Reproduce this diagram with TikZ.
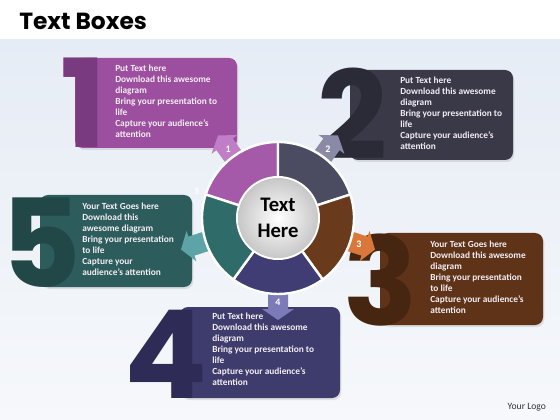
\documentclass[tikz,border=0pt]{standalone}
\usepackage{fontspec}
\setmainfont{Carlito}
\newfontfamily\digitfont{Poppins}
\usetikzlibrary{shadows}
\definecolor{bgtop}{HTML}{E6ECF5}
\definecolor{bgbot}{HTML}{F6F8FB}
\definecolor{box1}{HTML}{9C4F9E}\definecolor{dig1}{HTML}{7A3A80}
\definecolor{box2}{HTML}{3A3948}\definecolor{dig2}{HTML}{2B2A37}
\definecolor{box3}{HTML}{5E3318}\definecolor{dig3}{HTML}{472611}
\definecolor{box4}{HTML}{3E3C6C}\definecolor{dig4}{HTML}{2E2C56}
\definecolor{box5}{HTML}{2D5C5C}\definecolor{dig5}{HTML}{224747}
\definecolor{seg1}{HTML}{A45AA8}\definecolor{tab1}{HTML}{C07EC6}
\definecolor{seg2}{HTML}{4B4B62}\definecolor{tab2}{HTML}{8A8AA6}
\definecolor{seg3}{HTML}{6A3A1C}\definecolor{tab3}{HTML}{D9783A}
\definecolor{seg4}{HTML}{3F3D73}\definecolor{tab4}{HTML}{7C7AB8}
\definecolor{seg5}{HTML}{2F6B68}\definecolor{tab5}{HTML}{5EA3A6}
\definecolor{boxtxt}{HTML}{F4EEF4}
\tikzset{box/.style = {rounded corners=6, drop shadow={opacity=0.2, shadow xshift=1pt, shadow yshift=-1.5pt}},
         digit/.style = {font=\digitfont\bfseries\fontsize{92}{92}\selectfont, inner sep=0, anchor=base},
         boxtext/.style = {font=\bfseries\fontsize{7}{8.25}\selectfont, text=boxtxt, align=left, inner sep=0, anchor=north west},
         tabnum/.style = {font=\bfseries\fontsize{7.5}{7.5}\selectfont, text=white, inner sep=0},
         seg/.style = {draw=white, line width=1.8},
         title/.style = {font=\digitfont\bfseries\fontsize{17.5}{17.5}\selectfont, inner sep=0},
         tab/.pic = {\fill[#1] (68,-10) -- (91,-10) -- (91,-16) -- (102,0) -- (91,16) -- (91,10) -- (68,10) -- cycle;}}
\begin{document}
\begin{tikzpicture}[x=0.75pt, y=-0.75pt]
        \useasboundingbox (0,0) rectangle (560,420);
        \fill[white] (0,0) rectangle (560,420);
        \shade[top color=bgtop, bottom color=bgbot] (0,40) rectangle (560,420);

        \node[title, anchor=west] (title) at (19,21) {Text Boxes};
        \node[font=\fontsize{7.2}{7.2}\selectfont, text=black!80, anchor=west] (logo) at (503,407) {Your Logo};

        % boxes
        \fill[box, box1] (75,58) rectangle (237,148);
        \fill[box, box2] (350,70) rectangle (513,160);
        \fill[box, box3] (380,233) rectangle (543,325);
        \fill[box, box4] (180,307) rectangle (340,398);
        \fill[box, box5] (40,195) rectangle (192,287);

        \node[digit, text=dig1] (d1) at (84,148) {1};
        \node[digit, text=dig2] (d2) at (353,160) {2};
        \node[digit, text=dig3] (d3) at (381,325) {3};
        \node[digit, text=dig4] (d4) at (166,398) {4};
        \node[digit, text=dig5] (d5) at (41,287) {5};

        \node[boxtext] (t1) at (115,65) {Put Text here\\Download this awesome\\diagram\\Bring your presentation to\\life\\Capture your audience's\\attention};
        \node[boxtext] (t2) at (400,77) {Put Text here\\Download this awesome\\diagram\\Bring your presentation to\\life\\Capture your audience's\\attention};
        \node[boxtext] (t3) at (430,241) {Your Text Goes here\\Download this awesome\\diagram\\Bring your presentation\\to life\\Capture your audience's\\attention};
        \node[boxtext] (t4) at (212,313) {Put Text here\\Download this awesome\\diagram\\Bring your presentation to\\life\\Capture your audience's\\attention};
        \node[boxtext] (t5) at (82,203) {Your Text Goes here\\Download this\\awesome diagram\\Bring your presentation\\to life\\Capture your\\audience's attention};

        % ring
        \coordinate (c) at (278,218);
        \pic[rotate=126] at (c) {tab=tab1};
        \pic[rotate=54] at (c) {tab=tab2};
        \pic[rotate=-18] at (c) {tab=tab3};
        \pic[rotate=-90] at (c) {tab=tab4};
        \pic[rotate=198] at (c) {tab=tab5};

        \foreach \s/\col [evaluate=\s as \e using \s+72] in {-162/seg1, -90/seg2, -18/seg3, 54/seg4, 126/seg5}
            \draw[seg, fill=\col] ([shift={(\s:76)}]c) arc[start angle=\s, end angle=\e, radius=76]
                -- ([shift={(\e:40)}]c) arc[start angle=\e, end angle=\s, radius=40] -- cycle;

        \fill[white] (c) circle[radius=42];
        \shade[inner color=white, outer color=black!22] (c) circle[radius=40];
        \node[font=\bfseries\fontsize{15.5}{19.5}\selectfont, align=center] (ctext) at (c) {Text\\Here};

        \node[tabnum] (n1) at ([shift={(-126:85)}]c) {1};
        \node[tabnum] (n2) at ([shift={(-54:85)}]c) {2};
        \node[tabnum] (n3) at ([shift={(18:85)}]c) {3};
        \node[tabnum] (n4) at ([shift={(90:84)}]c) {4};
        \node[tabnum] (n5) at ([shift={(198:85)}]c) {5};
    \end{tikzpicture}
\end{document}
